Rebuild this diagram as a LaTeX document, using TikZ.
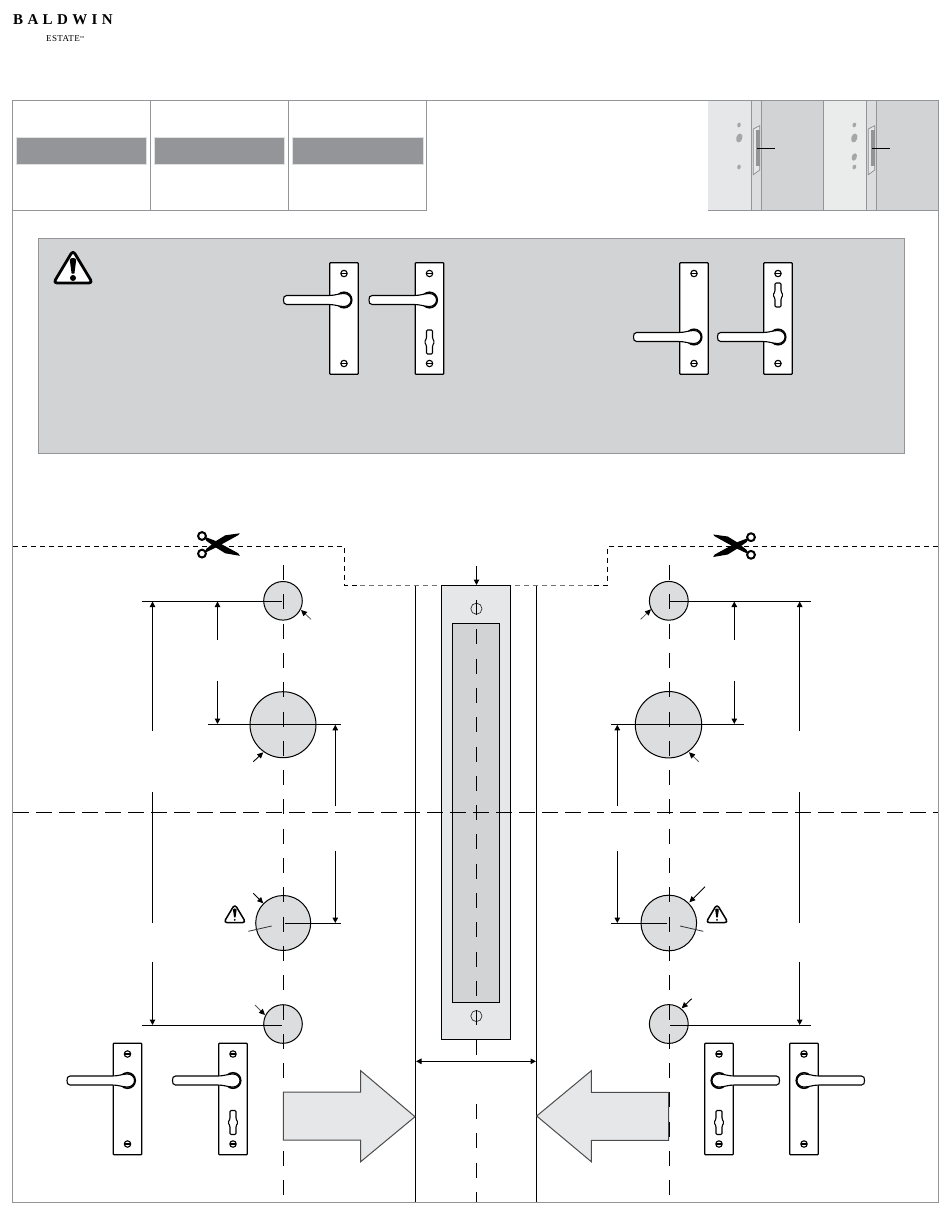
\documentclass[tikz,border=0pt]{standalone}
\usepackage{fontspec}
\setmainfont{Liberation Serif}
\newfontfamily\logofont[LetterSpace=29]{Liberation Serif Bold}
\newfontfamily\sublogofont[LetterSpace=4]{Liberation Serif}
\usetikzlibrary{arrows.meta}
\definecolor{framegray}{HTML}{939598}
\definecolor{barfill}{HTML}{939598}
\definecolor{panelA}{HTML}{E6E7E8}
\definecolor{panelB}{HTML}{DCDDDE}
\definecolor{panelC}{HTML}{D1D3D4}
\definecolor{holefill}{HTML}{DCDDDE}
\tikzset{
  frameline/.style={draw=framegray,line width=1pt},
  ink/.style={draw=black,line width=1pt},
  holecircle/.style={draw=black,fill=holefill,line width=1pt},
  centerdash/.style={draw=black,line width=1.05pt,dash pattern=on 15pt off 14.3pt},
  folddash/.style={draw=black,line width=1.05pt,dash pattern=on 16pt off 7pt},
  cutdash/.style={draw=black,line width=0.9pt,dash pattern=on 5pt off 4pt},
  cutdashgray/.style={draw=black!55,line width=0.9pt,dash pattern=on 5pt off 4pt},
  dimarrow/.style={draw=black,line width=1pt,-{Triangle[length=5.5pt,width=5.5pt]}},
  leader/.style={draw=black!65,line width=0.8pt,-{Triangle[length=6pt,width=5.5pt,color=black]}},
  leaderdark/.style={draw=black,line width=0.9pt,-{Triangle[length=6pt,width=5.5pt]}},
  blockarrow/.style={draw=black!70,fill=panelA,line width=1pt},
  platebox/.style={draw=black,fill=white,line width=1.2pt,rounded corners=0.6pt},
}
% lever handle on plate: #1 x, #2 y of plate centre, #3 xscale, #4 yscale, #5 1 = with keyhole
\newcommand{\doorhandle}[5]{%
  \begin{scope}[shift={(#1,#2)},xscale=#3,yscale=#4]
    \path[platebox] (-14.2,-55.7) rectangle (14.2,55.7);
    \foreach \sy in {-45,45}{
      \draw[line width=1.1pt,fill=white] (0,\sy) circle[radius=3.2pt];
      \draw[line width=1.1pt] (-3,\sy) -- (3,\sy);
    }
    \draw[line width=1.5pt,fill=white] (0,-18.5) circle[radius=7.8pt];
    \draw[line width=1.1pt,fill=white,line join=round]
      (-57.5,-23) -- (-15,-23) .. controls (-9,-23) and (-5,-25) .. (0,-25)
      .. controls (4,-25) and (7,-22) .. (7,-18.5)
      .. controls (7,-15) and (4,-12) .. (0,-12)
      .. controls (-5,-12) and (-9,-14) .. (-15,-14)
      -- (-57.5,-14) .. controls (-60,-14) and (-60.5,-16) .. (-60.5,-18.5)
      .. controls (-60.5,-21) and (-60,-23) .. (-57.5,-23) -- cycle;
    \ifnum#5=1
      \draw[line width=1.1pt,fill=white,rounded corners=1.2pt]
        (-3,11.5) -- (3,11.5) -- (3,20) -- (5,23.5) -- (3,27) -- (3,35.5)
        -- (-3,35.5) -- (-3,27) -- (-5,23.5) -- (-3,20) -- cycle;
    \fi
  \end{scope}}
% warning sign: #1 apex x, #2 apex y, #3 scale, #4 line width
\newcommand{\warnsign}[4]{%
  \begin{scope}[shift={(#1,#2)},scale=#3]
    \draw[line width=#4,fill=white,line join=round,rounded corners=3.5pt]
      (0,-1.5) -- (19.5,31) -- (-19.5,31) -- cycle;
    \fill[black] (-3.2,8) .. controls (-3.2,5.2) and (3.2,5.2) .. (3.2,8)
      -- (1.4,21.5) -- (-1.4,21.5) -- cycle;
    \fill[black] (0,26) circle[radius=3*#3 pt];
  \end{scope}}
% scissors: #1 x, #2 y of crossing, #3 xscale
\newcommand{\shears}[3]{%
  \begin{scope}[shift={(#1,#2)},xscale=#3]
    \fill[black] (-12.5,-7.5) -- (-2,-3.5) -- (21,9) -- (22.5,11.5) -- (8,9) -- (-1,3.5) -- (-11,-3.5) -- cycle;
    \fill[black] (-12.5,8.5) -- (-2,3.5) -- (21,-9.2) -- (22.5,-11) -- (8,-9) -- (-1,-3.5) -- (-11,4.5) -- cycle;
    \draw[line width=2pt,fill=white] (-15.3,-8.3) circle[radius=3.9pt];
    \draw[line width=2pt,fill=white] (-15.3,9.3) circle[radius=3.9pt];
  \end{scope}}
\begin{document}
\begin{tikzpicture}[x=1pt,y=-1pt]
\useasboundingbox (0,0) rectangle (950,1216);
\fill[white] (0,0) rectangle (950,1216);

% logo
\node[anchor=west,inner sep=0pt,font=\logofont\fontsize{15}{15}\selectfont] (logo) at (13,19.3) {BALDWIN};
\node[anchor=west,inner sep=0pt,font=\sublogofont\fontsize{9}{9}\selectfont] (sublogo) at (46,38.8) {ESTATE\raisebox{3pt}{\fontsize{3}{3}\selectfont TM}};

% frame and table
\draw[frameline] (12.7,1202.5) -- (12.7,100.5) -- (938.5,100.5) -- (938.5,1202.5) -- cycle;
\draw[frameline] (12.7,210.5) -- (426.5,210.5);
\foreach \cx in {150.5,288.5,426.5} \draw[frameline] (\cx,100.5) -- (\cx,210.5);
\foreach \bx/\ex in {16/146.5,154/284.5,292.5/423}
  \path[fill=barfill,draw=black!12,line width=0.6pt] (\bx,137.5) rectangle (\ex,164.5);

% door panels
\fill[panelA] (708.3,101) rectangle (751.5,209.5);
\fill[panelB] (751.5,101) rectangle (761.5,209.5);
\fill[panelC] (761.5,101) rectangle (823.5,209.5);
\fill[panelA!85!white] (823.5,101) rectangle (866.5,209.5);
\fill[panelB] (866.5,101) rectangle (876.5,209.5);
\fill[panelC] (876.5,101) rectangle (938,209.5);
\foreach \cx in {751.5,761.5,823.5,866.5,876.5} \draw[frameline] (\cx,100.5) -- (\cx,209.5);
\draw[frameline] (708.3,210) -- (938.5,210);
\foreach \dx in {0,115}{
  \begin{scope}[xshift=\dx pt]
    \path[fill=panelA,draw=black!45,line width=0.7pt] (753.3,129) -- (759.7,125.7) -- (759.7,170) -- (753.3,174.7) -- cycle;
    \fill[black!42] (756.2,130) rectangle (760,166);
    \draw[draw=black,line width=1pt] (756.7,148.3) -- (774.7,148.3);
  \end{scope}}
\foreach \hx/\hy/\rx/\ry in {739/125/1.8/2.4,739.3/138/3/4.6,739/167/1.8/2.4,854.3/125/1.8/2.4,854.3/138/3/4.6,854.3/157/2.5/3.8,854.3/167/1.8/2.4}
  \fill[black!35,rotate around={-18:(\hx,\hy)}] (\hx,\hy) ellipse[x radius=\rx pt,y radius=\ry pt];

% warning box
\path[fill=panelC,draw=framegray,line width=1pt] (38.5,238.5) rectangle (904.5,453.5);
\warnsign{73}{252}{1.0}{2.8pt}
\doorhandle{344}{318.5}{1}{1}{0}
\doorhandle{429.5}{318.5}{1}{1}{1}
\doorhandle{694}{318.5}{1}{-1}{0}
\doorhandle{778}{318.5}{1}{-1}{1}

% cut line
\draw[cutdash] (13,546.3) -- (344.5,546.3) -- (344.5,585.3) -- (360,585.3);
\draw[cutdashgray] (360,585.3) -- (441,585.3);
\draw[cutdash] (938,546.3) -- (607.3,546.3) -- (607.3,585.3) -- (592,585.3);
\draw[cutdashgray] (592,585.3) -- (511,585.3);
\shears{217.3}{544.3}{1}
\shears{735.7}{545.5}{-1}

% jambs
\draw[ink] (415.5,585.5) -- (415.5,1202);
\draw[ink] (536.5,585.5) -- (536.5,1202);

% strike / edge plate
\path[draw=black,fill=panelA,line width=1.05pt] (441.3,585.3) rectangle (510.5,1039.3);
\path[draw=black,fill=panelC,line width=1.05pt] (452.3,623.3) rectangle (499.5,1002.5);
\draw[line width=0.7pt,draw=black!80] (476.4,608.7) circle[radius=5.6pt];
\draw[line width=0.7pt,draw=black!80] (476.4,1016) circle[radius=5.6pt];

% left holes
\path[holecircle] (283,600.8) circle[radius=19.3pt];
\path[holecircle] (283,724.7) circle[radius=33pt];
\path[holecircle] (283.2,923) circle[radius=27.5pt];
\path[holecircle] (283,1024) circle[radius=19.3pt];
% right holes
\path[holecircle] (668.8,600.8) circle[radius=19.4pt];
\path[holecircle] (668.5,724.7) circle[radius=33.2pt];
\path[holecircle] (668.8,923) circle[radius=27.8pt];
\path[holecircle] (668.8,1024) circle[radius=19.4pt];

% block arrow left (above the centre line is drawn after it)
\draw[centerdash] (283.5,565) -- (283.5,1198);
\path[blockarrow] (283.3,1092) -- (360.7,1092) -- (360.7,1070.7) -- (415,1116.7) -- (360.7,1161.7) -- (360.7,1140) -- (283.3,1140) -- cycle;
% block arrow right
\path[blockarrow] (668.7,1092.3) -- (591.3,1092.3) -- (591.3,1070.7) -- (536.7,1116) -- (591.3,1161.7) -- (591.3,1140.3) -- (668.7,1140.3) -- cycle;
\draw[centerdash] (669.5,565) -- (669.5,1200);

% centre line of edge
\draw[centerdash] (476.5,600) -- (476.5,1056);
\draw[centerdash] (476.5,1104) -- (476.5,1202);

% fold line
\draw[folddash] (13,812.8) -- (938,812.8);

% top arrow and width dimension
\draw[dimarrow] (476.5,566) -- (476.5,585);
\draw[draw=black,line width=1pt,{Triangle[length=5.5pt,width=5.5pt]}-{Triangle[length=5.5pt,width=5.5pt]}] (416,1061.3) -- (536,1061.3);

% left dimensions
\draw[ink] (141.5,601) -- (282,601);
\draw[ink] (141.5,1025.3) -- (282,1025.3);
\draw[ink] (208.3,724.3) -- (341,724.3);
\draw[ink] (285,923.3) -- (341,923.3);
\draw[dimarrow] (152.5,730.7) -- (152.5,601.5);
\draw[ink] (152.5,792) -- (152.5,922.7);
\draw[dimarrow] (152.5,962) -- (152.5,1025);
\draw[dimarrow] (217.5,640) -- (217.5,601.5);
\draw[dimarrow] (217.5,681) -- (217.5,724);
\draw[dimarrow] (335.3,805.7) -- (335.3,724.8);
\draw[dimarrow] (335.3,850.7) -- (335.3,923);
\draw[leader] (311,619.3) -- (301,610);
\draw[leaderdark] (253.3,761.7) -- (263.3,752.3);
\draw[leaderdark] (253.3,893.3) -- (263.3,903.3);
\draw[leader] (255,1005) -- (265,1015);
\draw[draw=black!80,line width=0.8pt] (248.3,931.3) -- (271.7,926);
\warnsign{234.8}{905}{0.57}{1.5pt}

% right dimensions
\draw[ink] (670,601) -- (810.7,601);
\draw[ink] (670,1025.3) -- (810.7,1025.3);
\draw[ink] (611.3,724.3) -- (743.7,724.3);
\draw[ink] (611.3,923.3) -- (667,923.3);
\draw[dimarrow] (799.7,731) -- (799.7,601.5);
\draw[ink] (799.7,792) -- (799.7,923);
\draw[dimarrow] (799.7,962) -- (799.7,1025);
\draw[dimarrow] (734.3,640) -- (734.3,601.5);
\draw[dimarrow] (734.3,681) -- (734.3,724);
\draw[dimarrow] (617.3,805.7) -- (617.3,724.8);
\draw[dimarrow] (617.3,851) -- (617.3,923);
\draw[leader] (640.7,619.3) -- (651,609.3);
\draw[leader] (698.7,761.7) -- (689,752.3);
\draw[leaderdark] (705,886.7) -- (689.3,902.3);
\draw[leaderdark] (691.7,998.7) -- (681.7,1008.3);
\draw[draw=black!80,line width=0.8pt] (680,926) -- (703.3,931.3);
\warnsign{717}{905}{0.57}{1.5pt}

% bottom handles
\doorhandle{127.5}{1099}{1}{1}{0}
\doorhandle{233}{1099}{1}{1}{1}
\doorhandle{719}{1099}{-1}{1}{1}
\doorhandle{804}{1099}{-1}{1}{0}
\end{tikzpicture}
\end{document}
